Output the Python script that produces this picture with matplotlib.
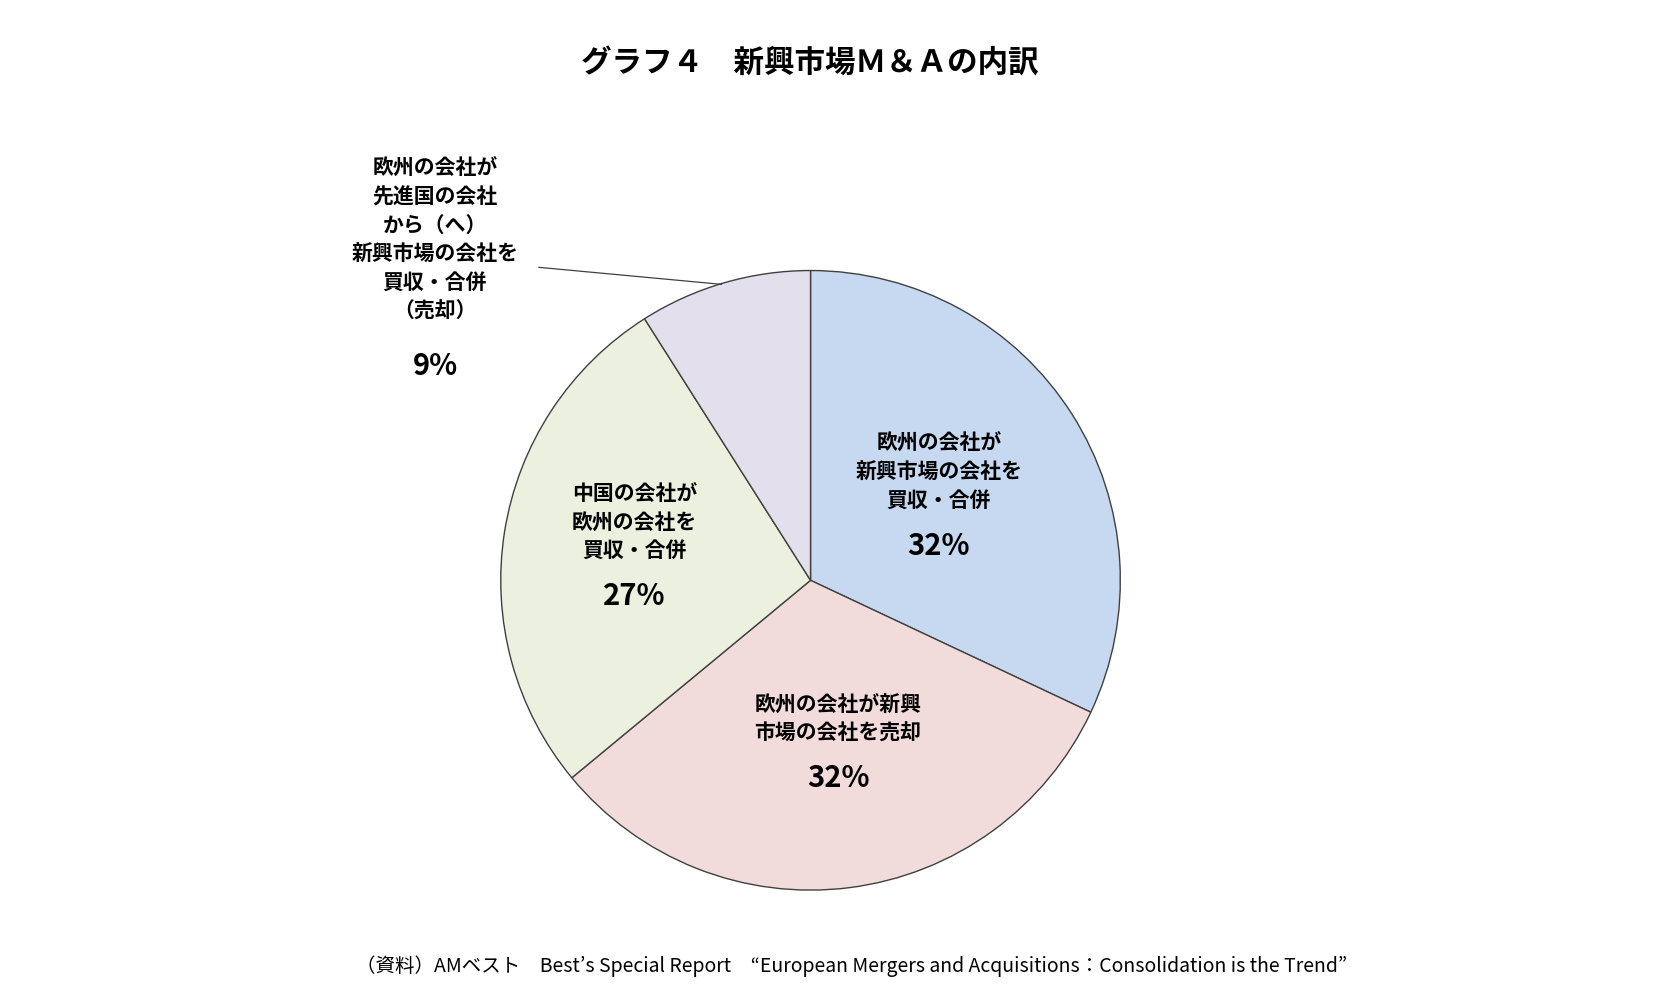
import matplotlib
matplotlib.use('Agg')
import matplotlib.pyplot as plt

plt.rcParams['font.family'] = 'Noto Sans CJK JP'

# data
labels = ['欧州の会社が\n新興市場の会社を\n買収・合併',
          '欧州の会社が新興\n市場の会社を売却',
          '中国の会社が\n欧州の会社を\n買収・合併',
          '欧州の会社が\n先進国の会社\nから（へ）\n新興市場の会社を\n買収・合併\n（売却）']
values = [32, 32, 27, 9]
colors = ['#c6d9f1', '#f2dcdb', '#ebf1de', '#e4dfec']

S = 1655 / 1560.0
def P(x, y):
    return x * S, 1007 - y * S

fig = plt.figure(figsize=(16.55, 10.07), dpi=100)
ax = fig.add_axes([0, 0, 1, 1])
ax.set_xlim(0, 1655)
ax.set_ylim(0, 1007)
ax.set_aspect('equal')
ax.axis('off')

cx, cy = P(764, 547)
ax.pie(values, colors=colors, startangle=90, counterclock=False, center=(cx, cy),
       radius=292 * S, wedgeprops=dict(edgecolor='#404040', linewidth=1.0), frame=True)
ax.set_xlim(0, 1655)
ax.set_ylim(0, 1007)
ax.axis('off')

# label positions (text block, percent)
lab_pos = [(885, 445), (790, 678), (598, 492), (410, 226)]
pct_pos = [(885, 515), (790, 733), (598, 562), (410, 345)]
for lab, v, lp, pp in zip(labels, values, lab_pos, pct_pos):
    x, y = P(*lp)
    ax.text(x, y, lab, ha='center', va='center', fontsize=15, fontweight='bold',
            linespacing=1.45)
    x, y = P(*pp)
    ax.text(x, y, '%d%%' % v, ha='center', va='center', fontsize=21, fontweight='bold')

x0, y0 = P(508, 252)
x1, y1 = P(680, 268)
ax.plot([x0, x1], [y0, y1], color='#404040', lw=0.9)

x, y = P(763, 60)
ax.text(x, y, 'グラフ４　新興市場Ｍ＆Ａの内訳', ha='center', va='center',
        fontsize=22, fontweight='bold')
x, y = P(803, 911)
ax.text(x, y, '（資料）AMベスト　Best’s Special Report　“European Mergers and Acquisitions：Consolidation is the Trend”',
        ha='center', va='center', fontsize=14)

fig.savefig('out.png', dpi=100)
